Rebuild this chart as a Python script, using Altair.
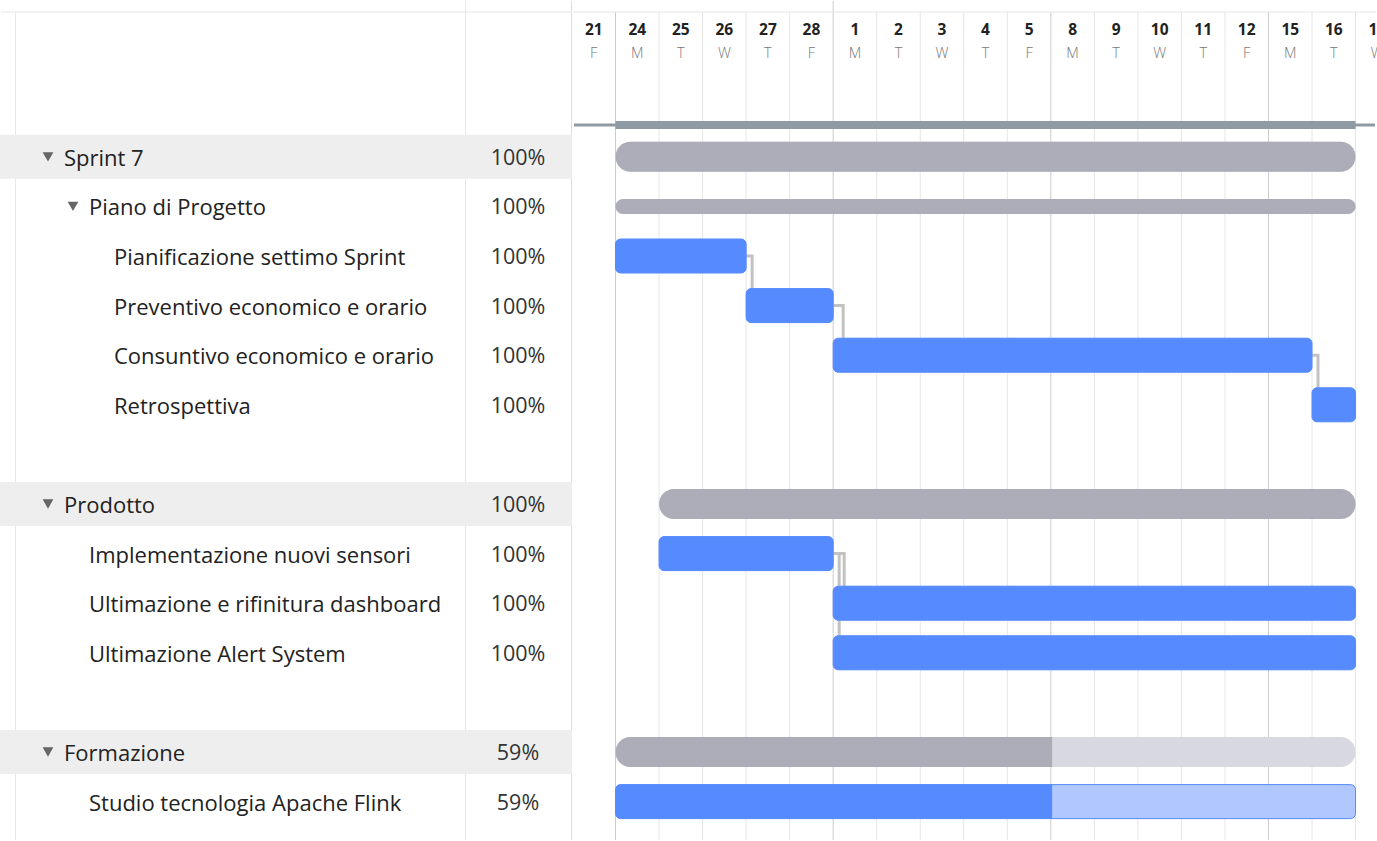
import altair as alt
import pandas as pd

# ---------------- data ----------------
names = ["Sprint 7", "Piano di Progetto", "Pianificazione settimo Sprint",
         "Preventivo economico e orario", "Consuntivo economico e orario",
         "Retrospettiva", "Prodotto", "Implementazione nuovi sensori",
         "Ultimazione e rifinitura dashboard", "Ultimazione Alert System",
         "Formazione", "Studio tecnologia Apache Flink"]
rows = [0, 1, 2, 3, 4, 5, 7, 8, 9, 10, 12, 13]
levels = [0, 1, 2, 2, 2, 2, 0, 1, 1, 1, 0, 1]
expandable = [True, True, False, False, False, False, True, False, False, False, True, False]
group_row = [True, False, False, False, False, False, True, False, False, False, True, False]
progress = [100, 100, 100, 100, 100, 100, 100, 100, 100, 100, 59, 59]
start_col = [1, 1, 1, 4, 6, 17, 2, 2, 6, 6, 1, 1]
end_col = [18, 18, 4, 6, 17, 18, 18, 6, 18, 18, 18, 18]
bar_type = ["summary", "thin", "task", "task", "task", "task",
            "summary", "task", "task", "task", "summary", "task"]

day_numbers = ["21", "24", "25", "26", "27", "28", "1", "2", "3", "4", "5",
               "8", "9", "10", "11", "12", "15", "16", "17"]
weekdays = ["F", "M", "T", "W", "T", "F", "M", "T", "W", "T", "F",
            "M", "T", "W", "T", "F", "M", "T", "W"]
week_starts = [1, 6, 11, 16]
month_starts = [6]

dep_from = [2, 3, 4, 8, 8]
dep_to = [3, 4, 5, 9, 10]

# ---------------- layout / style ----------------
FONT = "Open Sans"
W_LEFT, W_RIGHT, H = 572, 805, 841
COL_PX = 43.53
ROW_PX = 49.6
FIRST_CENTER = 156.8
BLUE = "#558bff"
LIGHT_BLUE = "#b0c8ff"
GRAY = "#adadba"
LIGHT_GRAY = "#d8d8e0"
TEXT = "#222222"

y_scale = alt.Scale(domain=[-FIRST_CENTER / ROW_PX, (H - FIRST_CENTER) / ROW_PX],
                    reverse=True, nice=False, zero=False, padding=0)
x_scale = alt.Scale(domain=[0, W_RIGHT / COL_PX], nice=False, zero=False, padding=0)
px_scale = alt.Scale(domain=[0, W_LEFT], nice=False, zero=False, padding=0)

tasks = pd.DataFrame({
    "name": names, "row": rows, "level": levels, "expand": expandable,
    "group": group_row, "progress": progress, "start": start_col,
    "end": end_col, "type": bar_type,
})
tasks["pct"] = tasks["progress"].astype(str) + "%"
tasks["pend"] = tasks["start"] + tasks["progress"] / 100 * (tasks["end"] - tasks["start"])
tasks["px"] = 64 + 25 * tasks["level"]
tasks["tri"] = tasks["px"] - 16
tasks["band0"] = tasks["row"] - 22 / ROW_PX
tasks["band1"] = tasks["row"] + 22 / ROW_PX

row_of = dict(zip(tasks["row"], tasks.index))
one = pd.DataFrame({"a": [0]})

# ---------------- left table ----------------
def vline(xpx, y0, color):
    return alt.Chart(one).mark_rule(color=color, strokeWidth=1).encode(
        x=alt.value(xpx), y=alt.value(y0), y2=alt.value(H - 1))

top_left = alt.Chart(one).mark_rule(color="#e6e6e6", strokeWidth=1).encode(
    x=alt.value(1), x2=alt.value(W_LEFT - 1), y=alt.value(12))

groups_bg = alt.Chart(tasks[tasks["group"]]).mark_rect(color="#eeeeee").encode(
    x=alt.value(0), x2=alt.value(W_LEFT),
    y=alt.Y("band0:Q", scale=y_scale, axis=None), y2="band1:Q")

tri = alt.Chart(tasks[tasks["expand"]]).mark_point(
    shape="triangle-down", filled=True, color="#666666", size=115, opacity=1).encode(
    x=alt.X("tri:Q", scale=px_scale, axis=None),
    y=alt.Y("row:Q", scale=y_scale, axis=None))

name_text = alt.Chart(tasks).mark_text(
    align="left", baseline="middle", font=FONT, fontSize=22, color=TEXT, dy=2).encode(
    x=alt.X("px:Q", scale=px_scale, axis=None),
    y=alt.Y("row:Q", scale=y_scale, axis=None),
    text="name:N")

pct_text = alt.Chart(tasks).mark_text(
    align="center", baseline="middle", font=FONT, fontSize=21.5, color="#333333", dy=2).encode(
    x=alt.value(518),
    y=alt.Y("row:Q", scale=y_scale, axis=None),
    text="pct:N")

left = alt.layer(
    top_left,
    vline(15.5, 12, "#e8e8e8"), vline(465.5, 1, "#e8e8e8"), vline(571.5, 1, "#dddddd"),
    groups_bg, tri, name_text, pct_text,
).properties(width=W_LEFT, height=H)

# ---------------- right timeline ----------------
days = pd.DataFrame({"num": day_numbers, "wd": weekdays})
days["c"] = days.index + 0.5
bounds = pd.DataFrame({"b": list(range(1, len(day_numbers)))})
bounds["week"] = bounds["b"].isin(week_starts)

grid_day = alt.Chart(bounds[~bounds["week"]]).mark_rule(color="#e6e6e6", strokeWidth=1).encode(
    x=alt.X("b:Q", scale=x_scale, axis=None), y=alt.value(12), y2=alt.value(H - 1))
grid_week = alt.Chart(bounds[bounds["week"]]).mark_rule(color="#cccccc", strokeWidth=1).encode(
    x=alt.X("b:Q", scale=x_scale, axis=None), y=alt.value(12), y2=alt.value(H - 1))
grid_month = alt.Chart(pd.DataFrame({"b": month_starts})).mark_rule(color="#cccccc", strokeWidth=1).encode(
    x=alt.X("b:Q", scale=x_scale, axis=None), y=alt.value(1), y2=alt.value(12))
top_right = alt.Chart(one).mark_rule(color="#e6e6e6", strokeWidth=1).encode(
    x=alt.value(1), x2=alt.value(W_RIGHT - 1), y=alt.value(12))

num_text = alt.Chart(days).mark_text(
    font=FONT, fontSize=15.5, fontWeight="bold", color=TEXT, baseline="middle", clip=True).encode(
    x=alt.X("c:Q", scale=x_scale, axis=None), y=alt.value(30), text="num:N")
wd_text = alt.Chart(days).mark_text(
    font=FONT, fontSize=14.5, fontWeight=300, color="#777777", baseline="middle", clip=True).encode(
    x=alt.X("c:Q", scale=x_scale, axis=None), y=alt.value(54), text="wd:N")

hdr_thin = alt.Chart(one).mark_rule(color="#8f9aa3", strokeWidth=3).encode(
    x=alt.value(2), x2=alt.value(W_RIGHT - 2), y=alt.value(125))
span = pd.DataFrame({"s": [tasks["start"].min()], "e": [tasks["end"].max()]})
hdr_thick = alt.Chart(span).mark_rule(color="#8f9aa3", strokeWidth=8).encode(
    x=alt.X("s:Q", scale=x_scale, axis=None), x2="e:Q", y=alt.value(125))

# dependency connectors
off_px = [6, 10, 6, 11, 6]
pts = []
for k, (a, b) in enumerate(zip(dep_from, dep_to)):
    ta = tasks.loc[row_of[a]]
    xe = ta["end"]
    xo = xe + off_px[k] / COL_PX
    ytop = b - 17 / ROW_PX
    pts += [{"id": k, "o": 0, "x": xe - 0.2, "y": a},
            {"id": k, "o": 1, "x": xo, "y": a},
            {"id": k, "o": 2, "x": xo, "y": ytop}]
conn = alt.Chart(pd.DataFrame(pts)).mark_line(color="#c2c2c2", strokeWidth=3, strokeJoin="miter").encode(
    x=alt.X("x:Q", scale=x_scale, axis=None),
    y=alt.Y("y:Q", scale=y_scale, axis=None),
    detail="id:N", order="o:Q")

summ = tasks[tasks["type"] == "summary"]
thin = tasks[tasks["type"] == "thin"]
tsk = tasks[tasks["type"] == "task"]

def bars(df, field_end, size, color, **kw):
    return alt.Chart(df).mark_bar(size=size, color=color, **kw).encode(
        x=alt.X("start:Q", scale=x_scale, axis=None), x2=alt.X2(field_end),
        y=alt.Y("row:Q", scale=y_scale, axis=None))

summ_base = bars(summ, "end", 30, LIGHT_GRAY, cornerRadius=15)
summ_done = bars(summ[summ["progress"] >= 100], "pend", 30, GRAY, cornerRadius=15)
summ_part = bars(summ[summ["progress"] < 100], "pend", 30, GRAY,
                 cornerRadiusTopLeft=15, cornerRadiusBottomLeft=15)
thin_bar = bars(thin, "end", 15, GRAY, cornerRadius=7.5)
task_base = bars(tsk, "end", 34, LIGHT_BLUE, cornerRadius=5, stroke=BLUE, strokeWidth=1)
task_done = bars(tsk[tsk["progress"] >= 100], "pend", 34, BLUE, cornerRadius=5)
task_part = bars(tsk[tsk["progress"] < 100], "pend", 34, BLUE,
                 cornerRadiusTopLeft=5, cornerRadiusBottomLeft=5)

right = alt.layer(
    grid_day, grid_week, grid_month, top_right, num_text, wd_text, hdr_thin, hdr_thick,
    conn, summ_base, summ_done, summ_part, thin_bar, task_base, task_done, task_part,
).properties(width=W_RIGHT, height=H)

chart = alt.hconcat(left, right, spacing=0).properties(
    padding=0, background="white"
).configure_view(stroke=None)

chart.save("out.html", embed_options={"renderer": "svg", "actions": False})
